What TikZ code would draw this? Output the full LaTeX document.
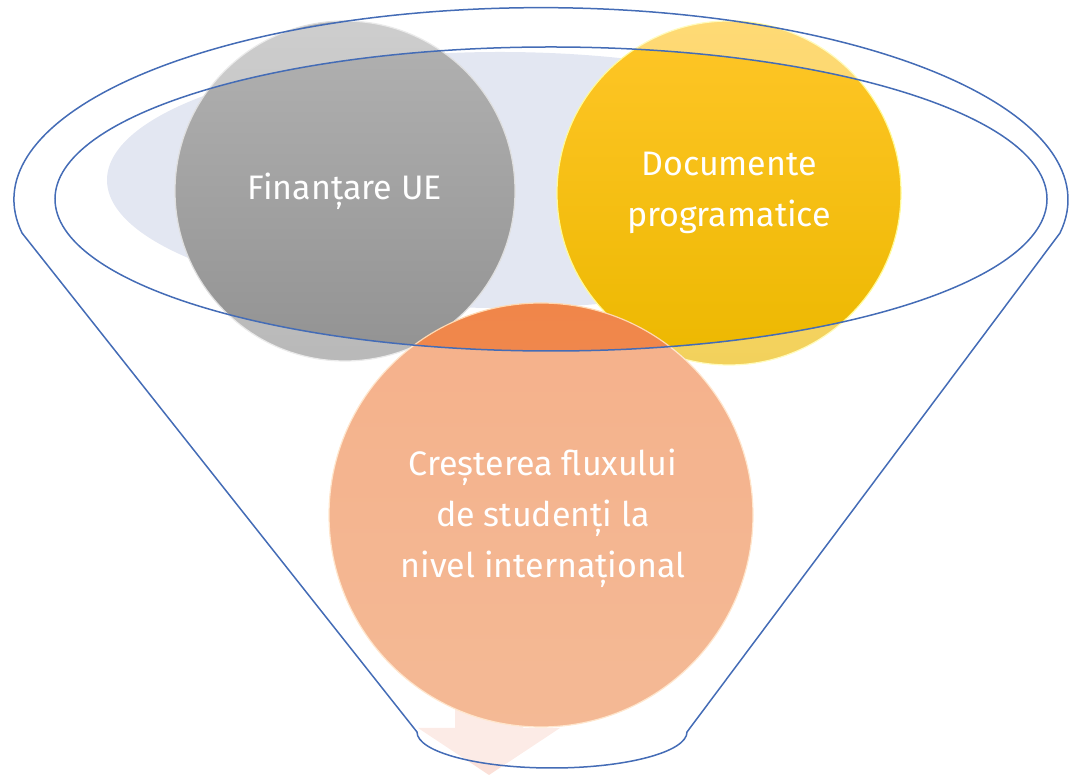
\documentclass[tikz,border=0pt]{standalone}
\usepackage{fontspec}
\setmainfont{Fira Sans}
\definecolor{funblue}{RGB}{68,108,182}
\definecolor{lav}{RGB}{227,231,242}
\definecolor{pinkarr}{RGB}{251,224,216}
\definecolor{grayhi}{RGB}{178,178,178}
\definecolor{graylo}{RGB}{146,146,146}
\definecolor{yelhi}{RGB}{255,198,40}
\definecolor{yello}{RGB}{236,184,0}
\definecolor{orhi}{RGB}{240,134,74}
\definecolor{orlo}{RGB}{238,146,90}
\begin{document}
\begin{tikzpicture}[x=1pt,y=1pt,
	ball/.style={circle,inner sep=0pt,text=white,align=center,font=\fontsize{34}{51}\selectfont},
	rim/.style={draw=#1,line width=1.2pt},
	funline/.style={draw=funblue,line width=1.5pt}]
	\useasboundingbox (0,0) rectangle (1071,776);
	% inside of the funnel top
	\fill[lav] (500,596) ellipse [x radius=393,y radius=128];
	% arrow out of the funnel
	\fill[pinkarr] (455,80) -- (523,80) -- (523,48) -- (560,48) -- (489,1) -- (418,48) -- (455,48) -- cycle;
	% the three balls
	\node[ball,minimum size=340,top color=grayhi,bottom color=graylo,rim=white!75!gray] (fin) at (345,585) {Finanțare UE};
	\node[ball,minimum size=344,top color=yelhi,bottom color=yello,rim=yellow!40!white] (doc) at (729,583) {Documente\\programatice};
	\node[ball,minimum size=424,top color=orhi,bottom color=orlo,rim=orange!30!white] (flux) at (541,261) {};
	\node[ball] (fluxtext) at (543,258) {Creșterea fluxului\\de studenți la\\nivel internațional};
	% funnel body
	\fill[white,fill opacity=0.36,even odd rule] (22,543) arc[start angle=190,end angle=-10,x radius=527,y radius=192]
		-- (687,44) arc[start angle=0,end angle=-180,x radius=135,y radius=36] -- cycle
		(551,577) ellipse [x radius=496,y radius=152];
	\draw[funline] (22,543) arc[start angle=190,end angle=-10,x radius=527,y radius=192]
		-- (687,44) arc[start angle=0,end angle=-180,x radius=135,y radius=36] -- cycle;
	\draw[funline] (551,577) ellipse [x radius=496,y radius=152];
\end{tikzpicture}
\end{document}
